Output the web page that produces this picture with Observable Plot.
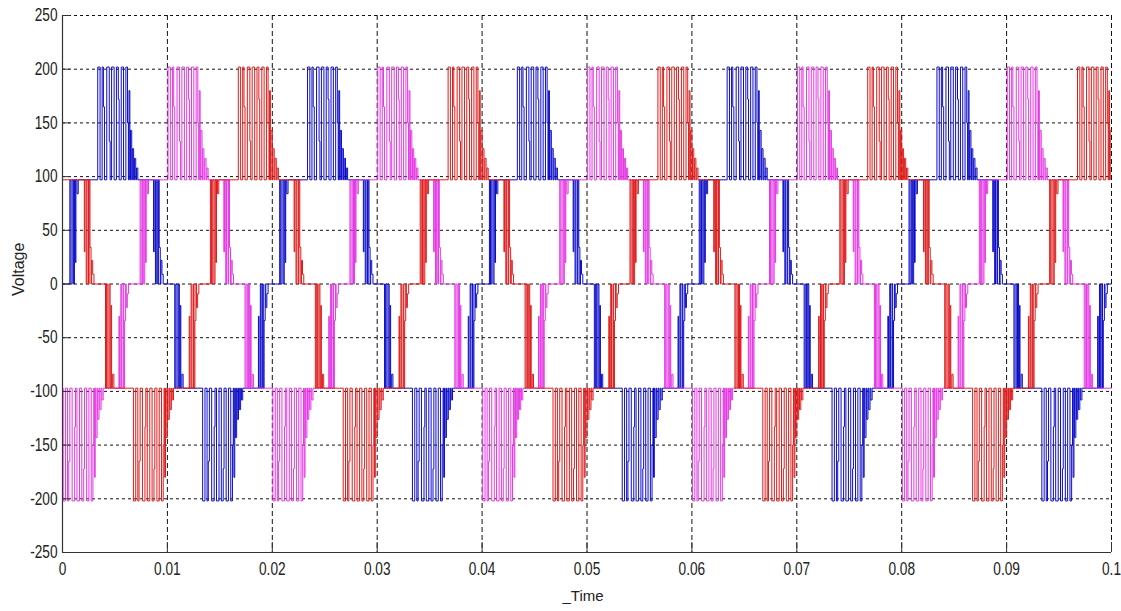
<!DOCTYPE html>
<html><head><meta charset="utf-8">
<script src="https://cdn.jsdelivr.net/npm/d3@7"></script>
<script src="https://cdn.jsdelivr.net/npm/@observablehq/plot@0.6"></script>
<style>
body{margin:0;background:#fff}
#chart svg{display:block}
</style>
</head><body><div id="chart"></div>
<script>
// ---- axis ticks ----
const xTicks = [0, 0.01, 0.02, 0.03, 0.04, 0.05, 0.06, 0.07, 0.08, 0.09, 0.1];
const xTickLabels = ["0", "0.01", "0.02", "0.03", "0.04", "0.05", "0.06", "0.07", "0.08", "0.09", "0.1"];
const yTicks = [250, 200, 150, 100, 50, 0, -50, -100, -150, -200, -250];
const yTickLabels = ["250", "200", "150", "100", "50", "0", "-50", "-100", "-150", "-200", "-250"];

// ---- three phases ----
const phaseNames = ["blue", "magenta", "red"];
const phaseColors = ["#0c0cc8", "#e438e4", "#de1c1c"];
const phaseStarts = [0.0007, 0.0074, 0.0141];   // s, start of a positive half-cycle
const phaseInitialLevel = [0, -97, 97];         // V, level at switch-on (t = 0)
const phaseInitialUntil = [0, 0, 0.0007];       // s, end of the switch-on transient
const period = 0.02;                            // s (50 Hz)

// switching pattern of one positive half-cycle
// (ms after the start of the half-cycle, level in V); negative half mirrors it
const halfCycleMs = [0.00, 0.10, 0.22, 0.34, 0.44, 0.52, 0.58, 0.68, 0.80,
  2.66, 2.88, 3.08, 3.20, 3.30, 3.52, 3.76, 3.84, 3.98, 4.22, 4.44, 4.62, 4.70, 4.90, 5.12, 5.34, 5.50, 5.58, 5.64, 5.72,
  5.78, 5.90, 5.96, 6.08, 6.16, 6.28, 6.36, 6.48,
  7.98, 8.04, 8.16, 8.24, 8.38, 8.44, 8.52, 8.62, 8.68, 8.78, 8.90];
const halfCycleV = [97, 0, 97, 0, 97, 20, 97, 84, 97,
  202, 97, 202, 165, 97, 202, 133, 97, 202, 97, 202, 172, 97, 202, 97, 202, 150, 97, 180, 97,
  143, 97, 126, 97, 117, 97, 108, 97,
  30, 97, 0, 97, 0, 97, 34, 0, 22, 9, 0];

function buildPhase(i) {
  const name = phaseNames[i], start = phaseStarts[i];
  let pts = [];
  for (let k = -1; k <= 5; k++) {
    const base = start + k * period;
    halfCycleMs.forEach((ms, j) => pts.push({t: base + ms / 1000, v: halfCycleV[j]}));
    halfCycleMs.forEach((ms, j) => pts.push({t: base + period / 2 + ms / 1000, v: -halfCycleV[j]}));
  }
  pts.sort((a, b) => a.t - b.t);
  const until = phaseInitialUntil[i];
  const before = pts.filter(p => p.t <= 0);
  const first = until > 0 ? phaseInitialLevel[i] : (before.length ? before[before.length - 1].v : 0);
  const inside = pts.filter(p => p.t > Math.max(0, until) && p.t < 0.1);
  const last = inside.length ? inside[inside.length - 1].v : first;
  return [{t: 0, v: 0}, {t: 0, v: first}, ...inside, {t: 0.1, v: last}].map(p => ({...p, phase: name}));
}
const series = phaseNames.map((n, i) => buildPhase(i));

const W = 1121, H = 611, mL = 62, mR = 10, mT = 15, mB = 59;
const fontTicks = "'Liberation Sans', Arial, sans-serif";

const chart = Plot.plot({
  width: W, height: H,
  marginLeft: mL, marginRight: mR, marginTop: mT, marginBottom: mB,
  style: {fontFamily: fontTicks, fontSize: "18px", color: "#222", background: "#fff"},
  x: {domain: [0, 0.1], label: null},
  y: {domain: [-250, 250], label: null},
  marks: [
    Plot.gridX(xTicks, {stroke: "#111", strokeOpacity: 1, strokeDasharray: "5,3"}),
    Plot.gridY(yTicks, {stroke: "#111", strokeOpacity: 1, strokeDasharray: "3,3"}),
    ...series.map((s, i) => Plot.line(s, {x: "t", y: "v", curve: "step-after", stroke: phaseColors[i], strokeWidth: 1})),
    Plot.ruleX([0], {stroke: "#333", strokeWidth: 1.2}),
    Plot.ruleY([-250], {stroke: "#333", strokeWidth: 1.2}),
    Plot.tickY(yTicks, {y: d => d, stroke: "#333", insetRight: W - mL - mR - 8}),
    Plot.tickX(xTicks, {x: d => d, stroke: "#333", insetTop: H - mT - mB - 10}),
    Plot.axisX(xTicks, {tickSize: 0, tickPadding: 10, tickFormat: d => xTickLabels[xTicks.indexOf(d)], label: null, fill: "#222"}),
    Plot.axisY(yTicks, {tickSize: 0, tickPadding: 5, tickFormat: d => yTickLabels[yTicks.indexOf(d)], label: null, fill: "#222"}),
    Plot.text(["Voltage"], {frameAnchor: "left", rotate: -90, dx: -44, dy: 12, fontSize: 16, fontFamily: "'Liberation Sans', Arial, sans-serif", fill: "#222"}),
    Plot.text(["_Time"], {frameAnchor: "bottom", dy: 48, dx: -4, fontSize: 15, fontFamily: "'Liberation Sans', Arial, sans-serif", fill: "#222"})
  ]
});
document.getElementById("chart").appendChild(chart);

// the reference's tick labels use a condensed face: squeeze them horizontally around their anchor
const num = s => { const v = parseFloat(s); return (s && /^-?[\d.]+$/.test(s.trim()) && isFinite(v)) ? v : 0; };
chart.querySelectorAll('g[aria-label="x-axis tick label"] text, g[aria-label="y-axis tick label"] text').forEach(t => {
  const x = num(t.getAttribute("x"));
  const prev = t.getAttribute("transform") || "";
  t.setAttribute("transform", `${prev} translate(${x},0) scale(0.76,1) translate(${-x},0)`);
});
</script>
</body></html>
